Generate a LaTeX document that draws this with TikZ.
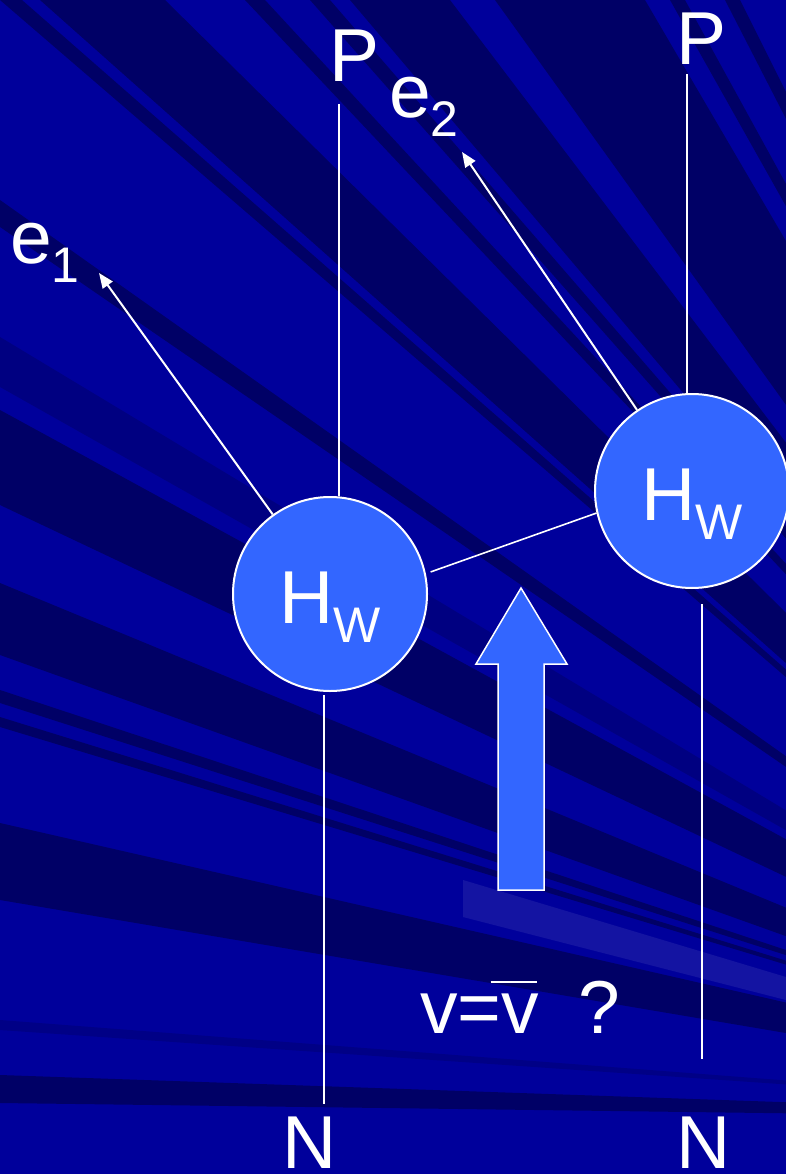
\documentclass[tikz,border=0pt]{standalone}
\usepackage{fontspec}
\setmainfont{Liberation Sans}
\usetikzlibrary{arrows.meta, positioning}
\definecolor{deepblue}{RGB}{0,0,155}
\definecolor{shadeblue}{RGB}{0,0,102}
\definecolor{ballblue}{RGB}{51,102,255}
\newcommand{\lowsub}[1]{\raisebox{-19pt}{\fontsize{50}{50}\selectfont #1}}
\newcommand{\vbar}{\makebox[0pt][l]{\hspace{-11pt}\raisebox{50pt}{\rule{46pt}{2pt}}}v}

\begin{document}
\begin{tikzpicture}[x=1pt, y=-1pt,
  hwball/.style={circle, draw=white, line width=2pt, fill=ballblue, minimum size=194pt,
    inner sep=0pt, text=white, text height=64pt, text depth=6pt, font=\fontsize{75}{90}\selectfont},
  wire/.style={white, line width=1.6pt},
  vec/.style={white, line width=2pt, -{Triangle[length=15pt, width=12pt]}},
  tag/.style={text=white, inner sep=0pt, font=\fontsize{75}{90}\selectfont}]
  \useasboundingbox (0,0) rectangle (786,1174);
  \fill[deepblue] (0,0) rectangle (786,1174);
  \begin{scope}
    \clip (0,0) rectangle (786,1174);
    \coordinate (focus) at (1300,1120);
    % rays coming in at the top edge
    \foreach \a/\b in {0/22, 40/165, 245/265, 310/330, 350/450, 495/645, 670/685, 725/740}
      \fill[shadeblue] (\a,0) -- (\b,0) -- (focus) -- cycle;
    % rays coming in at the left edge
    \foreach \a/\b/\c in {200/227/shadeblue, 337/387/shadeblue!50!deepblue, 410/505/shadeblue,
        583/655/shadeblue, 690/703/shadeblue, 717/727/shadeblue, 823/900/shadeblue,
        1020/1030/shadeblue!40!deepblue, 1075/1103/shadeblue}
      \fill[\c] (0,\a) -- (0,\b) -- (focus) -- cycle;
    \fill[white, opacity=0.08] (463,880) -- (786,977) -- (786,1000) -- (463,917) -- cycle;
  \end{scope}

  \node[hwball] (hwL) at (330,594) {H\lowsub{W}};
  \node[hwball] (hwR) at (692,491) {H\lowsub{W}};

  \node[tag, anchor=base] (pL) at (355,82) {P};
  \node[tag, anchor=base] (pR) at (702,65) {P};
  \node[tag, anchor=base] (nL) at (310,1168) {N};
  \node[tag, anchor=base] (nR) at (704,1168) {N};
  \node[tag, anchor=base west] (e1) at (10,263) {e\lowsub{1}};
  \node[tag, anchor=base west] (e2) at (389,118) {e\lowsub{2}};
  \node[tag, anchor=base west] (vq) at (420,1033) {v=\vbar\hspace{39pt}?};

  \coordinate (topL) at (339,104);
  \coordinate (botL) at (324,1104);
  \coordinate (topR) at (687,74);
  \coordinate (botR) at (702,1059);
  \coordinate (e1tip) at (99,273);
  \coordinate (e2tip) at (462,152);

  \draw[wire] (topL) -- (topL |- hwL.north);
  \draw[wire, shorten <=3pt] (botL |- hwL.south) -- (botL);
  \draw[wire] (topR) -- (topR |- hwR.north);
  \draw[wire, shorten <=15pt] (botR |- hwR.south) -- (botR);
  \draw[wire, shorten <=5pt] (hwL.12) -- (hwR.193);
  \draw[vec] (hwL) -- (e1tip);
  \draw[vec] (hwR) -- (e2tip);

  % the push upwards
  \fill[ballblue, draw=white, line width=1.5pt] (521,588) -- (567,664) -- (544,664) -- (544,890)
    -- (498,890) -- (498,664) -- (476,664) -- cycle;
\end{tikzpicture}
\end{document}
